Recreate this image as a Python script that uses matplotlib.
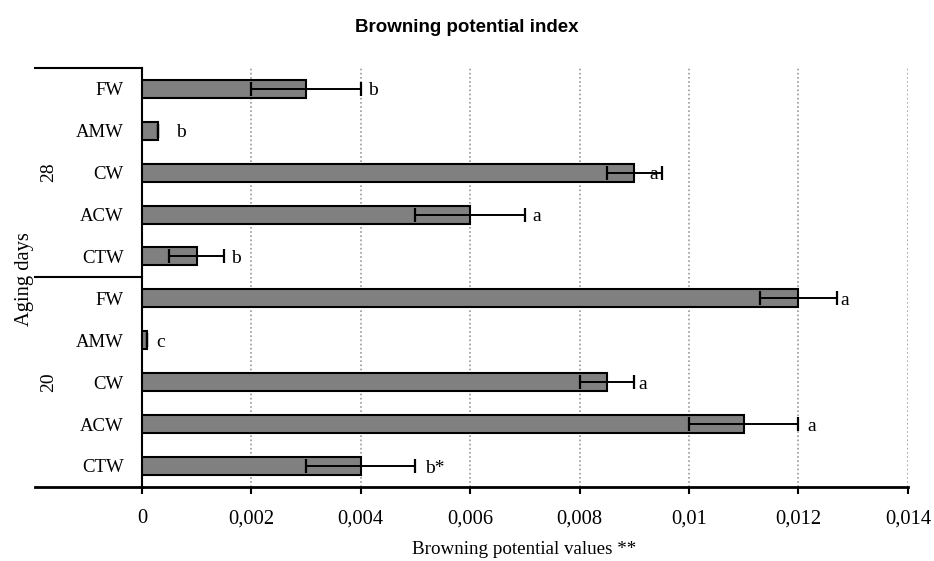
import matplotlib.pyplot as plt
import numpy as np

# Data (top group = 28 days, bottom group = 20 days)
wines = ["FW", "AMW", "CW", "ACW", "CTW"]
groups = ["28", "20"]

values_28 = [0.003, 0.0003, 0.009, 0.006, 0.001]
errors_28 = [0.001, 0.0, 0.0005, 0.001, 0.0005]
letters_28 = ["b", "b", "a", "a", "b"]

values_20 = [0.012, 0.0001, 0.0085, 0.011, 0.004]
errors_20 = [0.0007, 0.0, 0.0005, 0.001, 0.001]
letters_20 = ["a", "c", "a", "a", "b*"]

# label offsets (pixels to the right of the error bar end)
letter_pad_28 = [7, 18, -12, 7, 7]
letter_pad_20 = [4, 9, 4, 9, 10]

xticks = [0, 0.002, 0.004, 0.006, 0.008, 0.01, 0.012, 0.014]
xticklabels = ["0", "0,002", "0,004", "0,006", "0,008", "0,01", "0,012", "0,014"]

serif = ["Liberation Serif", "DejaVu Serif"]
plt.rcParams["font.family"] = serif

values = values_28 + values_20
errors = errors_28 + errors_20
letters = letters_28 + letters_20
pads = letter_pad_28 + letter_pad_20
labels = wines + wines
ypos = np.arange(len(values))

fig = plt.figure(figsize=(9.34, 5.61), dpi=100)
ax = fig.add_axes([0.152, 0.132, 0.820, 0.747])

ax.barh(ypos, values, height=0.43, color="#808080", edgecolor="black", linewidth=1.5, zorder=3)
ax.errorbar(values, ypos, xerr=errors, fmt="none", ecolor="black", elinewidth=1.4,
            capsize=4.8, capthick=1.6, zorder=4)

for y, v, e, t, p in zip(ypos, values, errors, letters, pads):
    ax.annotate(t, (v + e, y), xytext=(p * 0.72, -1.5), textcoords="offset points",
                ha="left", va="center", fontsize=14, zorder=5)

ax.set_ylim(len(values) - 0.5, -0.5)
ax.set_xlim(0, 0.014)
ax.set_yticks(ypos)
ax.set_yticklabels(labels, fontsize=13.5)
ax.tick_params(axis="y", length=0, pad=13)
ax.set_xticks(xticks)
ax.set_xticklabels(xticklabels, fontsize=14.8)
ax.tick_params(axis="x", direction="out", length=5, width=1.5, pad=11)

for x in xticks[1:]:
    ax.axvline(x, color="#999999", linestyle=(0, (1, 1.5)), linewidth=1.2, zorder=1)

for s in ["top", "right"]:
    ax.spines[s].set_visible(False)
ax.spines["left"].set_linewidth(1.5)
ax.spines["bottom"].set_linewidth(2)

# group separator lines on the category axis
ext = -(142 - 35) / 766
for yline in [-0.5, 4.5, 9.5]:
    ax.plot([ext, 0], [yline, yline], transform=ax.get_yaxis_transform(),
            color="black", linewidth=2 if yline == 9.5 else 1.5, clip_on=False)

for g, yc in zip(groups, [2, 7]):
    ax.text(-(142 - 49) / 766, yc, g, transform=ax.get_yaxis_transform(), rotation=90,
            ha="center", va="center", fontsize=14)

fig.text(25 / 934, 1 - 279 / 561, "Aging days", rotation=90, ha="center", va="center", fontsize=14.8)
fig.text(524 / 934, 1 - 550 / 561, "Browning potential values **", ha="center", va="center", fontsize=13.7)
fig.text(467 / 934, 1 - 28 / 561, "Browning potential index", ha="center", va="center",
         fontsize=13.5, fontweight="bold", family=["Liberation Sans", "DejaVu Sans"])

fig.savefig("out.png", dpi=100)
